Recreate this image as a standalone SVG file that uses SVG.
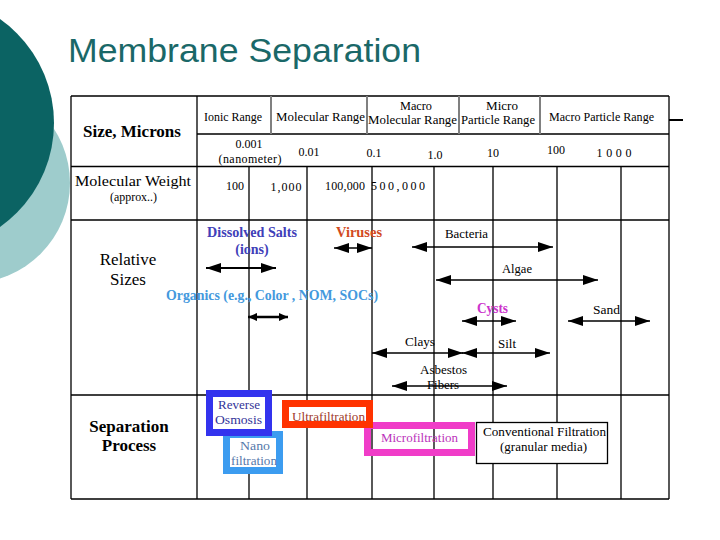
<svg xmlns="http://www.w3.org/2000/svg" width="720" height="540" viewBox="0 0 720 540">
<defs>
<style>
.t{font-family:"Liberation Serif","Times New Roman",serif;font-size:13px;fill:#000}
.n{font-family:"Liberation Serif","Times New Roman",serif;font-size:12px;fill:#000;text-anchor:middle}
.c{text-anchor:middle}
.lbl{font-family:"Liberation Serif","Times New Roman",serif;font-size:17px;fill:#000;text-anchor:middle}
.b{font-weight:bold}
.m{font-size:14px}
.g{stroke:#000;stroke-width:1.3;fill:none}
.hd{stroke:#808080;stroke-width:2;fill:none}
.ar{stroke:#000;stroke-width:1.3;fill:none;marker-start:url(#ah);marker-end:url(#ah)}
.ar2{stroke:#000;stroke-width:2;fill:none;marker-start:url(#ah);marker-end:url(#ah)}
.ars{stroke:#000;stroke-width:2.5;fill:none;marker-start:url(#ahs);marker-end:url(#ahs)}
</style>
<marker id="ah" viewBox="0 0 15 10" refX="15" refY="5" markerWidth="15" markerHeight="10" markerUnits="userSpaceOnUse" orient="auto-start-reverse"><path d="M0,0 L15,5 L0,10 Z" fill="#000"/></marker>
<marker id="ahs" viewBox="0 0 9 8" refX="9" refY="4" markerWidth="9" markerHeight="8" markerUnits="userSpaceOnUse" orient="auto-start-reverse"><path d="M0,0 L9,4 L0,8 Z" fill="#000"/></marker>
</defs>
<rect width="720" height="540" fill="#fff"/>
<g id="background">
<circle cx="-30" cy="183" r="100" fill="#9ecccc"/>
<circle cx="-73" cy="123" r="127" fill="#0b6363"/>
<text x="68" y="62" font-family="'Liberation Sans',Arial,sans-serif" font-size="34" fill="#1a6868" textLength="353" lengthAdjust="spacingAndGlyphs">Membrane Separation</text>
</g>
<g id="grid">
<path class="g" d="M71,96 H669 M197,134 H669 M71,166.5 H669 M71,220 H669 M71,395 H669 M71,499 H669"/>
<path class="g" d="M71,96 V499 M669,96 V499 M197,96 V499 M249,166.5 V499 M307,166.5 V499 M372,166.5 V499 M434,166.5 V499 M493,166.5 V499 M557,166.5 V499 M621,166.5 V499"/>
<path class="hd" d="M271,96 V134 M367,96 V134 M459,96 V134 M540,96 V134"/>
<path d="M669,120 H683" stroke="#000" stroke-width="2"/>
</g>
<g id="header">
<text class="lbl b" x="132" y="137">Size, Microns</text>
<text class="t" x="204" y="121" textLength="58" lengthAdjust="spacingAndGlyphs">Ionic Range</text>
<text class="t" x="276" y="121" textLength="89" lengthAdjust="spacingAndGlyphs">Molecular Range</text>
<text class="t" x="400" y="110" textLength="32" lengthAdjust="spacingAndGlyphs">Macro</text>
<text class="t" x="368" y="124" textLength="89" lengthAdjust="spacingAndGlyphs">Molecular Range</text>
<text class="t" x="486" y="110" textLength="32" lengthAdjust="spacingAndGlyphs">Micro</text>
<text class="t" x="461" y="124" textLength="74" lengthAdjust="spacingAndGlyphs">Particle Range</text>
<text class="t" x="549" y="121" textLength="105" lengthAdjust="spacingAndGlyphs">Macro Particle Range</text>
</g>
<g id="size-row">
<text class="n" x="249" y="148">0.001</text>
<text class="n" x="250" y="162.5" textLength="63">(nanometer)</text>
<text class="n" x="309" y="156">0.01</text>
<text class="n" x="374" y="157">0.1</text>
<text class="n" x="435" y="159">1.0</text>
<text class="n" x="493" y="157">10</text>
<text class="n" x="556" y="154">100</text>
<text class="n" x="614" y="157" textLength="35">1000</text>
</g>
<g id="weight-row">
<text class="t" x="75" y="186" style="font-size:15.5px" textLength="116" lengthAdjust="spacingAndGlyphs">Molecular Weight</text>
<text class="t" x="110" y="201" textLength="47" lengthAdjust="spacingAndGlyphs">(approx..)</text>
<text class="n" x="235" y="190">100</text>
<text class="n" x="286" y="191" textLength="31">1,000</text>
<text class="n" x="345" y="190" textLength="40">100,000</text>
<text class="n" x="398" y="190" textLength="54">500,000</text>
</g>
<g id="relative-sizes">
<text class="lbl" x="128" y="265">Relative</text>
<text class="lbl" x="128" y="285">Sizes</text>
<g id="dissolved-salts"><text class="t m c b" x="252" y="237" style="fill:#4040b8" textLength="90" lengthAdjust="spacingAndGlyphs">Dissolved Salts</text><text class="t m c b" x="252" y="254" style="fill:#4040b8">(ions)</text></g>
<g id="viruses"><text class="t m b" x="336" y="237" style="fill:#d24a1e" textLength="46" lengthAdjust="spacingAndGlyphs">Viruses</text></g>
<g id="organics"><text class="t m b" x="166" y="300" style="fill:#4499dd" textLength="212" lengthAdjust="spacingAndGlyphs">Organics (e.g., Color , NOM, SOCs)</text></g>
<g id="bacteria"><text class="t" x="445" y="238" textLength="43" lengthAdjust="spacingAndGlyphs">Bacteria</text></g>
<g id="algae"><text class="t" x="502" y="273" textLength="30" lengthAdjust="spacingAndGlyphs">Algae</text></g>
<g id="cysts"><text class="t m b" x="477" y="313" style="fill:#cc33cc" textLength="31" lengthAdjust="spacingAndGlyphs">Cysts</text></g>
<g id="sand"><text class="t" x="593" y="314" textLength="27" lengthAdjust="spacingAndGlyphs">Sand</text></g>
<g id="clays"><text class="t" x="405" y="346" textLength="30" lengthAdjust="spacingAndGlyphs">Clays</text></g>
<g id="silt"><text class="t" x="498" y="348" textLength="18" lengthAdjust="spacingAndGlyphs">Silt</text></g>
<g id="asbestos"><text class="t" x="420" y="374" textLength="47" lengthAdjust="spacingAndGlyphs">Asbestos</text><text class="t" x="427" y="389" textLength="32" lengthAdjust="spacingAndGlyphs">Fibers</text></g>
</g>
<g id="connectors">
<line class="ar2" x1="206" y1="268" x2="276" y2="268"/>
<line class="ar" x1="334" y1="248" x2="372" y2="248"/>
<line class="ars" x1="248" y1="317" x2="288" y2="317"/>
<line class="ar" x1="412" y1="247" x2="553" y2="247"/>
<line class="ar" x1="436" y1="280" x2="598" y2="280"/>
<line class="ar" x1="462" y1="321" x2="516" y2="321"/>
<line class="ar" x1="568" y1="321" x2="650" y2="321"/>
<line class="ar" x1="372" y1="353" x2="463" y2="353"/>
<line class="ar" x1="462" y1="353" x2="550" y2="353"/>
<line class="ar" x1="392" y1="386" x2="507" y2="386"/>
</g>
<g id="separation-process">
<text class="lbl b" x="129" y="432">Separation</text>
<text class="lbl b" x="129" y="451">Process</text>
<g id="nanofiltration"><rect x="226.5" y="434.5" width="53" height="36" fill="#fff" stroke="#3c9cf0" stroke-width="7"/><text class="t" x="240" y="450" style="fill:#5577aa" textLength="30" lengthAdjust="spacingAndGlyphs">Nano</text><text class="t" x="231" y="465" style="fill:#5577aa" textLength="46" lengthAdjust="spacingAndGlyphs">filtration</text></g>
<g id="reverse-osmosis"><rect x="209.5" y="393.5" width="59" height="39" fill="#fff" stroke="#3333ee" stroke-width="7"/><text class="t" x="218" y="409" style="fill:#333399" textLength="42" lengthAdjust="spacingAndGlyphs">Reverse</text><text class="t" x="215" y="424" style="fill:#333399" textLength="47" lengthAdjust="spacingAndGlyphs">Osmosis</text></g>
<g id="microfiltration"><rect x="367.5" y="425.5" width="104" height="27" fill="none" stroke="#f03cc8" stroke-width="7"/><text class="t" x="381" y="442" style="fill:#bb33bb" textLength="77" lengthAdjust="spacingAndGlyphs">Microfiltration</text></g>
<g id="ultrafiltration"><rect x="285.5" y="403.5" width="84" height="21" fill="#fff" stroke="#ff3300" stroke-width="7"/><text class="t" x="292" y="421" style="fill:#a03a2a" textLength="73" lengthAdjust="spacingAndGlyphs">Ultrafiltration</text></g>
<g id="conventional-filtration"><rect x="476.5" y="422.5" width="131" height="41" fill="#fff" stroke="#000" stroke-width="1.3"/><text class="t" x="483" y="436" textLength="123" lengthAdjust="spacingAndGlyphs">Conventional Filtration</text><text class="t" x="500" y="451" textLength="87" lengthAdjust="spacingAndGlyphs">(granular media)</text></g>
</g>
</svg>
